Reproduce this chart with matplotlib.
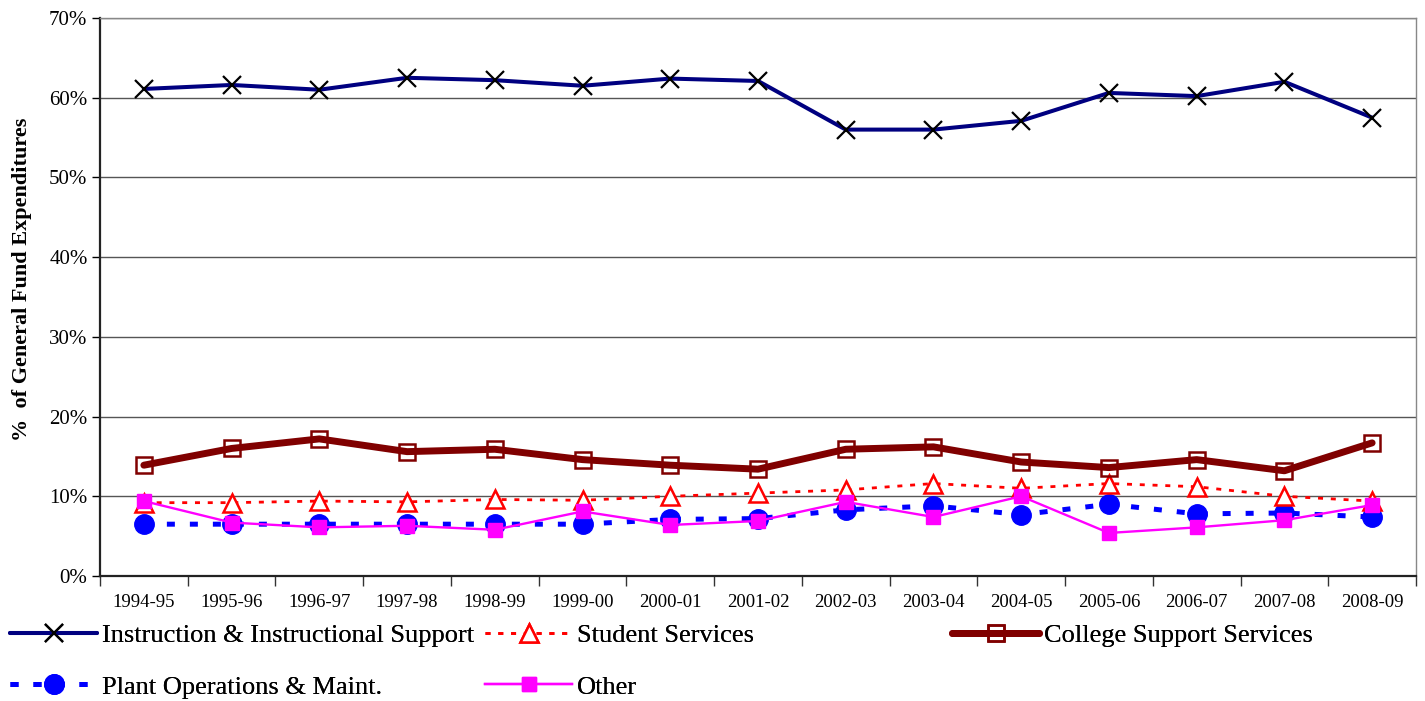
import numpy as np
import matplotlib
matplotlib.use('Agg')
import matplotlib.pyplot as plt
from matplotlib.ticker import FixedLocator, PercentFormatter

plt.rcParams['font.family'] = ['Liberation Serif', 'DejaVu Serif']

years = ['1994-95', '1995-96', '1996-97', '1997-98', '1998-99', '1999-00', '2000-01',
         '2001-02', '2002-03', '2003-04', '2004-05', '2005-06', '2006-07', '2007-08', '2008-09']

instruction = [61.1, 61.6, 61.0, 62.5, 62.2, 61.5, 62.4, 62.1, 56.0, 56.0, 57.1, 60.6, 60.2, 62.0, 57.5]
student = [9.2, 9.2, 9.4, 9.3, 9.6, 9.5, 10.0, 10.4, 10.8, 11.6, 11.0, 11.6, 11.2, 10.0, 9.4]
college = [13.9, 16.0, 17.2, 15.6, 15.9, 14.6, 13.9, 13.4, 15.9, 16.2, 14.3, 13.6, 14.6, 13.2, 16.7]
plant = [6.5, 6.5, 6.5, 6.5, 6.5, 6.5, 7.1, 7.2, 8.3, 8.8, 7.7, 9.0, 7.8, 7.9, 7.4]
other = [9.4, 6.7, 6.1, 6.3, 5.8, 8.1, 6.4, 6.9, 9.3, 7.4, 10.0, 5.4, 6.1, 7.0, 8.9]

fig = plt.figure(figsize=(14.25, 7.01), dpi=100)
ax = fig.add_axes([100 / 1425, 125 / 701, 1316 / 1425, 558 / 701])

x = np.arange(len(years))

h_instr, = ax.plot(x, instruction, color='#000080', lw=2.9, solid_capstyle='round', marker='x', ms=13,
                   mec='black', mew=1.6, label='Instruction & Instructional Support', zorder=5)
h_stud, = ax.plot(x, student, color='#FF0000', lw=2, ls=(0, (1.8, 2.8)), marker='^', ms=13,
                  mfc='white', mec='#FF0000', mew=1.8, label='Student Services', zorder=4)
h_coll, = ax.plot(x, college, color='#800000', lw=5, solid_capstyle='round', marker='s', ms=12,
                  mfc='none', mec='#800000', mew=1.8, label='College Support Services', zorder=4)
h_plant, = ax.plot(x, plant, color='#0000FF', lw=3.6, ls=(0, (1.6, 3.0)), dash_capstyle='butt',
                   marker='o', ms=14, mec='#0000FF', label='Plant Operations & Maint.', zorder=3)
h_other, = ax.plot(x, other, color='#FF00FF', lw=1.7, marker='s', ms=10, mec='#FF00FF',
                   label='Other', zorder=6)

ax.set_xlim(-0.5, len(years) - 0.5)
ax.set_ylim(0, 70)
ax.yaxis.set_major_locator(FixedLocator(np.arange(0, 71, 10)))
ax.yaxis.set_major_formatter(PercentFormatter(decimals=0))
ax.grid(axis='y', color='#555555', lw=1)
ax.set_axisbelow(True)

ax.xaxis.set_major_locator(FixedLocator(np.arange(-0.5, len(years), 1)))
ax.set_xticklabels([])
ax.set_xticks(x, minor=True)
ax.set_xticklabels(years, minor=True)
ax.tick_params(axis='x', which='major', direction='out', length=7, width=1, color='#333333')
ax.tick_params(axis='x', which='minor', length=0, pad=13, labelsize=13.5)
ax.tick_params(axis='y', direction='out', length=6, width=1, labelsize=15, pad=3)

for side in ['left', 'bottom']:
    ax.spines[side].set_color('#222222')
    ax.spines[side].set_linewidth(1.6)
for side in ['top', 'right']:
    ax.spines[side].set_color('#888888')
    ax.spines[side].set_linewidth(1)

ax.set_ylabel('%  of General Fund Expenditures', fontsize=16, fontweight='bold')
ax.yaxis.set_label_coords(-0.052, 0.532)

# legend laid out in three columns like the original
cols = [([h_instr, h_plant], 10), ([h_stud, h_other], 485), ([h_coll], 952)]
for handles, xpos in cols:
    leg = fig.legend(handles=handles, loc='upper left', bbox_to_anchor=(xpos / 1425, 1 - 624 / 701),
                     frameon=False, fontsize=19, handlelength=3.3, handletextpad=0.2,
                     labelspacing=1.05, borderpad=0, borderaxespad=0)
    fig.add_artist(leg)

fig.savefig('out.png', dpi=100)
